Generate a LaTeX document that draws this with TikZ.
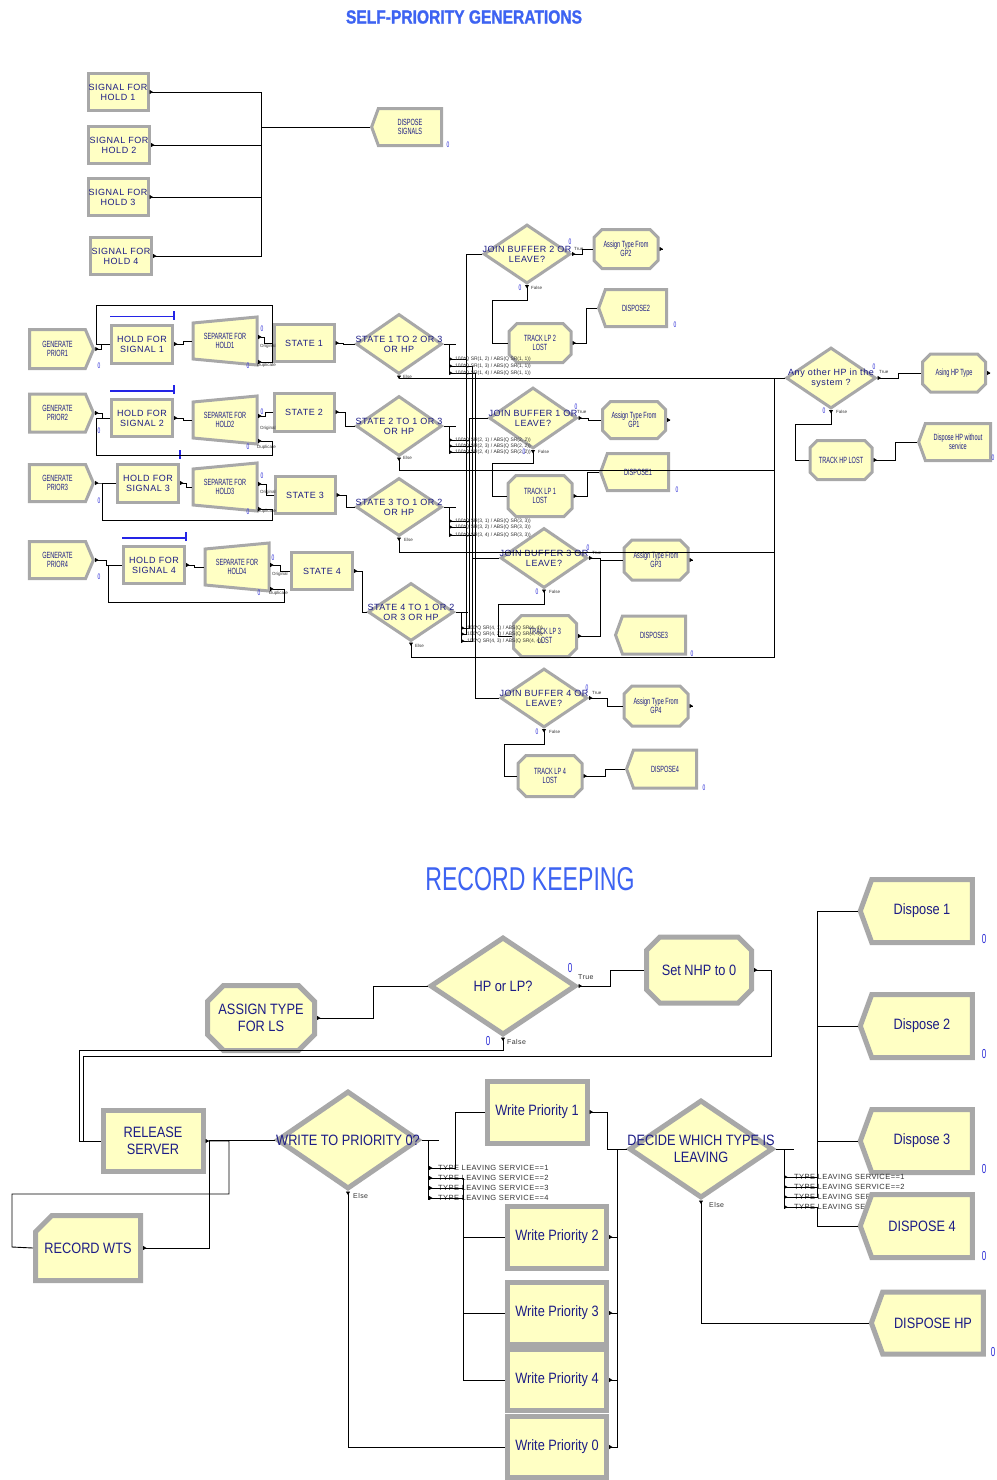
\documentclass[tikz,border=0pt]{standalone}
\usepackage{fontspec}
\setmainfont{Liberation Sans}
\newfontfamily\narrowfont{Liberation Sans}[FakeStretch=0.62]
\newfontfamily\condfont{Liberation Sans}[FakeStretch=0.85]
\newfontfamily\spacedfont{Liberation Sans}[LetterSpace=6]
\newfontfamily\keepfont{Liberation Sans}[FakeStretch=0.7]
\newfontfamily\headfont{Liberation Sans Bold}[FakeStretch=0.82, FakeBold=1.2]
\usetikzlibrary{shapes.geometric, shapes.misc, shapes.symbols, arrows.meta, calc}
\definecolor{modfill}{HTML}{FFFFC4}
\definecolor{modedge}{HTML}{A8A8A8}
\definecolor{modtext}{HTML}{1C1C86}
\definecolor{titleblue}{HTML}{3D63F2}
\definecolor{cntblue}{HTML}{2B2BD6}
\definecolor{qblue}{HTML}{2424E6}

\begin{document}
\begin{tikzpicture}[x=1pt, y=-1pt,
    mod/.style={draw=modedge, fill=modfill, line width=3pt, text=modtext, align=center, inner sep=0pt},
    big/.style={line width=5pt, chamfered rectangle xsep=8pt, chamfered rectangle ysep=8pt},
    boxmod/.style={mod, rectangle},
    assignmod/.style={mod, chamfered rectangle, chamfered rectangle xsep=4pt, chamfered rectangle ysep=4pt},
    decidemod/.style={mod, diamond},
    createmod/.style={mod, signal, signal to=east, signal pointer angle=134},
    disposemod/.style={mod, signal, signal to=west, signal pointer angle=140},
    recordmod/.style={mod, chamfered rectangle, chamfered rectangle corners=north west, chamfered rectangle xsep=11pt, chamfered rectangle ysep=11pt},
    sz/.style 2 args={minimum width=#1, minimum height=#2},
    capfont/.style={font=\spacedfont\fontsize{9}{10}\selectfont},
    thinfont/.style={font=\narrowfont\fontsize{9}{9.5}\selectfont},
    bigfont/.style={font=\condfont\fontsize{15}{16.5}\selectfont},
    dtext/.style={text=modtext, align=center, inner sep=0pt},
    cnt/.style={text=cntblue, font=\narrowfont\fontsize{8}{8}\selectfont, inner sep=0pt},
    bigcnt/.style={cnt, font=\narrowfont\fontsize{13}{13}\selectfont},
    tag/.style={font=\fontsize{4.5}{5}\selectfont, inner sep=0pt, anchor=west, text=black!80},
    bigtag/.style={font=\spacedfont\fontsize{7}{8}\selectfont, inner sep=0pt, anchor=west, text=black!80},
    cond/.style={font=\fontsize{5}{6}\selectfont, inner sep=0pt, anchor=west, text=black!80},
    bigcond/.style={font=\spacedfont\fontsize{7.5}{8}\selectfont, inner sep=0pt, anchor=west, text=black!80},
    flow/.style={line width=0.9pt, {Triangle[length=3.5pt,width=4pt,reversed]}-},
    stub/.style={line width=0.9pt},
    queue/.style={draw=qblue, line width=1.4pt}]

\path[use as bounding box, fill=white] (0,0) rectangle (996,1480);

% titles
\node[text=titleblue, font=\headfont\fontsize{19}{20}\selectfont] (titleGen) at (464,17) {SELF-PRIORITY GENERATIONS};
\node[text=titleblue, font=\keepfont\fontsize{33}{34}\selectfont] (titleRec) at (530,879) {RECORD KEEPING};

% signals for the holds
\node[boxmod, capfont, sz={60}{37}] (sig1) at (118,92) {SIGNAL FOR\\HOLD 1};
\node[boxmod, capfont, sz={61}{37}] (sig2) at (119,145) {SIGNAL FOR\\HOLD 2};
\node[boxmod, capfont, sz={60}{37}] (sig3) at (118,197) {SIGNAL FOR\\HOLD 3};
\node[boxmod, capfont, sz={61}{37}] (sig4) at (121,256) {SIGNAL FOR\\HOLD 4};
\node[disposemod, thinfont, sz={70}{37}] (dispSig) at (410,127) {DISPOSE\\SIGNALS};

% generation rows
\node[createmod, thinfont, sz={64}{39}] (gen1) at (57.5,349) {GENERATE\\PRIOR1};
\node[createmod, thinfont, sz={64}{38}] (gen2) at (57.5,413) {GENERATE\\PRIOR2};
\node[createmod, thinfont, sz={64}{37}] (gen3) at (57.5,483) {GENERATE\\PRIOR3};
\node[createmod, thinfont, sz={64}{37}] (gen4) at (57.5,560) {GENERATE\\PRIOR4};

\node[boxmod, capfont, sz={61}{38}] (hold1) at (142,344) {HOLD FOR\\SIGNAL 1};
\node[boxmod, capfont, sz={61}{37}] (hold2) at (142,418) {HOLD FOR\\SIGNAL 2};
\node[boxmod, capfont, sz={61}{38}] (hold3) at (148,483) {HOLD FOR\\SIGNAL 3};
\node[boxmod, capfont, sz={61}{37}] (hold4) at (154,565) {HOLD FOR\\SIGNAL 4};
\foreach \h in {hold1,hold2,hold3,hold4}
    \draw[queue] ([yshift=7pt]\h.north west) -- ([yshift=7pt]\h.north east)
        ([yshift=4pt]\h.north east) -- ([yshift=13pt]\h.north east);

% separate modules
\foreach \n/\x/\y/\t in {sep1/225/341/{SEPARATE FOR\\HOLD1}, sep2/225/420/{SEPARATE FOR\\HOLD2},
        sep3/225/487/{SEPARATE FOR\\HOLD3}, sep4/237/567/{SEPARATE FOR\\HOLD4}} {
    \draw[draw=modedge, fill=modfill, line width=3pt] (\x-32,\y-18) -- (\x+32,\y-24) -- (\x+32,\y+24) -- (\x-32,\y+18) -- cycle;
    \node[thinfont, text=modtext, align=center, inner sep=0pt, sz={66}{50}] (\n) at (\x,\y) {\t};
}

\node[boxmod, capfont, sz={60}{37}] (st1) at (304,343) {STATE 1};
\node[boxmod, capfont, sz={60}{38}] (st2) at (304,412) {STATE 2};
\node[boxmod, capfont, sz={60}{37}] (st3) at (305,495) {STATE 3};
\node[boxmod, capfont, sz={61}{37}] (st4) at (322,571) {STATE 4};

\node[decidemod, sz={86}{60}, label={[dtext, capfont]center:{STATE 1 TO 2 OR 3\\OR HP}}] (d1) at (399,344) {};
\node[decidemod, sz={86}{60}, label={[dtext, capfont]center:{STATE 2 TO 1 OR 3\\OR HP}}] (d2) at (399,426) {};
\node[decidemod, sz={86}{58}, label={[dtext, capfont]center:{STATE 3 TO 1 OR 2\\OR HP}}] (d3) at (399,507) {};
\node[decidemod, sz={86}{58}, label={[dtext, capfont]center:{STATE 4 TO 1 OR 2\\OR 3 OR HP}}] (d4) at (411,612) {};

% join buffers
\node[decidemod, sz={87}{59}, label={[dtext, capfont]center:{JOIN BUFFER 2 OR\\LEAVE?}}] (jb2) at (527,254) {};
\node[decidemod, sz={88}{61}, label={[dtext, capfont]center:{JOIN BUFFER 1 OR\\LEAVE?}}] (jb1) at (533,418) {};
\node[decidemod, sz={87}{60}, label={[dtext, capfont]center:{JOIN BUFFER 3 OR\\LEAVE?}}] (jb3) at (544,558) {};
\node[decidemod, sz={87}{59}, label={[dtext, capfont]center:{JOIN BUFFER 4 OR\\LEAVE?}}] (jb4) at (544,698) {};

\node[assignmod, thinfont, sz={64}{39}] (agp2) at (626,249) {Assign Type From\\GP2};
\node[assignmod, thinfont, sz={63}{37}] (agp1) at (634,420) {Assign Type From\\GP1};
\node[assignmod, thinfont, sz={64}{40}] (agp3) at (656,560) {Assign Type From\\GP3};
\node[assignmod, thinfont, sz={64}{40}] (agp4) at (656,706) {Assign Type From\\GP4};

\node[assignmod, thinfont, sz={62}{39}] (tlp2) at (540,343) {TRACK LP 2\\LOST};
\node[assignmod, thinfont, sz={64}{41}] (tlp1) at (540,496) {TRACK LP 1\\LOST};
\node[assignmod, thinfont, sz={63}{41}] (tlp3) at (545,636) {TRACK LP 3\\LOST};
\node[assignmod, thinfont, sz={64}{41}] (tlp4) at (550,776) {TRACK LP 4\\LOST};

\node[disposemod, thinfont, sz={68}{37}] (disp2) at (636,308) {DISPOSE2};
\node[disposemod, thinfont, sz={68}{37}] (disp1) at (638,472) {DISPOSE1};
\node[disposemod, thinfont, sz={70}{38}] (disp3) at (654,635) {DISPOSE3};
\node[disposemod, thinfont, sz={70}{38}] (disp4) at (665,769) {DISPOSE4};

% high priority
\node[decidemod, sz={90}{61}, label={[dtext, font=\spacedfont\fontsize{9}{10}\selectfont]center:{Any other HP in the\\system ?}}] (anyhp) at (831,378) {};
\node[assignmod, thinfont, sz={63}{38}] (ahp) at (954,373) {Asing HP Type};
\node[assignmod, thinfont, sz={62}{39}] (thp) at (841,460) {TRACK HP LOST};
\node[disposemod, thinfont, sz={72}{37}] (dhp) at (958,442) {Dispose HP without\\service};

% record keeping, the hidden condition texts first so that DISPOSE 4 covers them
\foreach \y/\t in {1197/3, 1207/4}
    \node[bigcond] (decTxt\t) at (794,\y) {TYPE LEAVING SERVICE==\t};

\node[assignmod, big, bigfont, sz={107}{65}] (ats) at (261,1018) {ASSIGN TYPE\\FOR LS};
\node[decidemod, big, sz={146}{98}, label={[dtext, bigfont]center:HP or LP?}] (hplp) at (503,986) {};
\node[assignmod, big, bigfont, sz={105}{66}] (setnhp) at (699,970) {Set NHP to 0};
\node[boxmod, big, bigfont, sz={100}{61}] (rel) at (153,1141) {RELEASE\\SERVER};
\node[recordmod, line width=5pt, bigfont, sz={105}{65}] (rec) at (88,1248) {RECORD WTS};
\node[decidemod, big, sz={142}{98}, label={[dtext, bigfont]center:WRITE TO PRIORITY 0?}] (wtp0) at (348,1140) {};

\node[boxmod, big, bigfont, sz={100}{62}] (wp1) at (537,1112) {Write Priority 1};
\node[boxmod, big, bigfont, sz={99}{62}] (wp2) at (557,1237) {Write Priority 2};
\node[boxmod, big, bigfont, sz={99}{62}] (wp3) at (557,1313) {Write Priority 3};
\node[boxmod, big, bigfont, sz={99}{61}] (wp4) at (557,1380) {Write Priority 4};
\node[boxmod, big, bigfont, sz={99}{61}] (wp0) at (557,1447) {Write Priority 0};

\node[decidemod, big, sz={144}{98}, label={[dtext, bigfont]center:{DECIDE WHICH TYPE IS\\LEAVING}}] (dec) at (701,1149) {};

\node[disposemod, big, bigfont, sz={112}{63}] (disp1b) at (922,911) {Dispose 1};
\node[disposemod, big, bigfont, sz={112}{63}] (disp2b) at (922,1026) {Dispose 2};
\node[disposemod, big, bigfont, sz={112}{63}] (disp3b) at (922,1141) {Dispose 3};
\node[disposemod, big, bigfont, sz={112}{63}] (disp4b) at (922,1226) {DISPOSE 4};
\node[disposemod, big, bigfont, sz={112}{62}] (dhp2) at (933,1323) {DISPOSE HP};

\foreach \y/\t in {1177/1, 1187/2}
    \node[bigcond] (decTxt\t) at (794,\y) {TYPE LEAVING SERVICE==\t};

% counters
\foreach \x/\y [count=\i] in {448/145, 99/366, 99/431, 99/501, 99/577, 262/329, 248/366, 262/412, 248/447,
        262/476, 248/512, 273/558, 259/593, 570/242, 520/288, 675/325, 576/407, 524/452, 677/490,
        588/548, 537/592, 692/654, 587/688, 537/732, 704/788, 874/367, 824/411, 993/458}
    \node[cnt] (cnt\i) at (\x,\y) {0};
\foreach \x/\y [count=\i] in {570/968, 488/1041, 984/939, 984/1054, 984/1169, 984/1256, 993/1352}
    \node[bigcnt] (bcnt\i) at (\x,\y) {0};

% branch labels
\foreach \x/\y/\t [count=\i] in {260/346/Original, 257/365/Duplicate, 260/428/Original, 257/447/Duplicate,
        260/492/Original, 257/511/Duplicate, 272/574/Original, 269/593/Duplicate,
        574/249/True, 577/412/True, 592/553/True, 592/693/True, 879/372/True,
        531/288/False, 538/452/False, 549/592/False, 549/732/False, 836/412/False,
        403/377/Else, 403/458/Else, 404/540/Else, 415/646/Else}
    \node[tag] (tag\i) at (\x,\y) {\t};
\foreach \x/\y/\t [count=\i] in {578/977/True, 507/1042/False, 353/1196/Else, 709/1205/Else}
    \node[bigtag] (btag\i) at (\x,\y) {\t};

% signals to dispose
\coordinate (sigJoin) at (261,127);
\foreach \s in {sig1,sig2,sig3,sig4}
    \draw[flow] (\s.east) -| (sigJoin);
\draw[stub] (sigJoin) -- (dispSig.west);

% row 1
\draw[flow] (gen1.east) -- ++(6,0) |- (hold1.west);
\draw[flow] (hold1.east) -- ++(9,0) |- (sep1.west);
\draw[flow] ($(sep1.east)+(0,-4)$) -- ++(6,0) |- (st1.west);
\draw[flow] ($(sep1.east)+(0,21)$) -- ++(14,0) |- (96,305) |- (hold1.west);
\draw[flow] (st1.east) -- ++(8,0) |- (d1.west);
% row 2
\draw[flow] (gen2.east) -- ++(7,0) |- (hold2.west);
\draw[flow] (hold2.east) -- ++(9,0) |- (sep2.west);
\draw[flow] ($(sep2.east)+(0,-4)$) -- ++(7,0) |- (st2.west);
\draw[flow] ($(sep2.east)+(0,21)$) -- ++(14,0) |- (96,455) |- (hold2.west);
\draw[flow] (st2.east) -- ++(10,0) |- (d2.west);
% row 3
\draw[flow] (gen3.east) -- ++(5,0) |- (hold3.west);
\draw[flow] (hold3.east) -- ++(6,0) |- (sep3.west);
\draw[flow] ($(sep3.east)+(0,-3)$) -- ++(8,0) |- (st3.west);
\draw[flow] ($(sep3.east)+(0,22)$) -- ++(14,0) |- (102,520) |- (hold3.west);
\draw[flow] (st3.east) -- ++(10,0) |- (d3.west);
% row 4
\draw[flow] (gen4.east) -- ++(11,0) |- (hold4.west);
\draw[flow] (hold4.east) -- ++(8,0) |- (sep4.west);
\draw[flow] ($(sep4.east)+(0,-2)$) -- ++(10,0) |- (st4.west);
\draw[flow] ($(sep4.east)+(0,22)$) -- ++(14,0) |- (108,602) |- (hold4.west);
\draw[flow] (st4.east) -- ++(8,0) |- (d4.west);

% state decisions: conditions to the join buffers
\draw[stub] (d1.east) -- ++(12,0) (449,344) -- (449,374);
\draw[stub] (d2.east) -- ++(12,0) (449,426) -- (449,453);
\draw[stub] (d3.east) -- ++(12,0) (449,507) -- (449,536);
\draw[stub] (d4.east) -- ++(12,0) (461,612) -- (461,642);
\foreach \n/\x/\y in {d1a/449/359, d1b/449/366, d1c/449/373, d2a/449/440, d2b/449/446, d2c/449/452,
        d3a/449/521, d3b/449/527, d3c/449/535, d4a/461/628, d4b/461/634, d4c/461/641}
    \coordinate (\n) at (\x,\y);
\draw[flow] (d1a) -| ([xshift=-16pt]jb2.west) -- (jb2.west);
\draw[flow] (d1b) -| ([xshift=-26.5pt]jb3.west) -- (jb3.west);
\draw[flow] (d1c) -| ([xshift=-23.5pt]jb4.west) -- (jb4.west);
\draw[flow] (d2a) -| ([xshift=-18pt]jb1.west) -- (jb1.west);
\draw[flow] (d2b) -| ([xshift=-26.5pt]jb3.west) -- (jb3.west);
\draw[flow] (d2c) -| ([xshift=-23.5pt]jb4.west) -- (jb4.west);
\draw[flow] (d3a) -| ([xshift=-18pt]jb1.west) -- (jb1.west);
\draw[flow] (d3b) -| ([xshift=-16pt]jb2.west) -- (jb2.west);
\draw[flow] (d3c) -| ([xshift=-23.5pt]jb4.west) -- (jb4.west);
\draw[flow] (d4a) -| ([xshift=-18pt]jb1.west) -- (jb1.west);
\draw[flow] (d4b) -| ([xshift=-16pt]jb2.west) -- (jb2.west);
\draw[flow] (d4c) -| ([xshift=-26.5pt]jb3.west) -- (jb3.west);
\foreach \c/\t in {d1a/{1, 2}, d1b/{1, 3}, d1c/{1, 4}}
    \node[cond] (txt\c) at ([xshift=6pt]\c) {100*Q SR(\t) / ABS(Q SR(1, 1))};
\foreach \c/\t in {d2a/{2, 1}, d2b/{2, 3}, d2c/{2, 4}}
    \node[cond] (txt\c) at ([xshift=6pt]\c) {100*Q SR(\t) / ABS(Q SR(2, 2))};
\foreach \c/\t in {d3a/{3, 1}, d3b/{3, 2}, d3c/{3, 4}}
    \node[cond] (txt\c) at ([xshift=6pt]\c) {100*Q SR(\t) / ABS(Q SR(3, 3))};
\foreach \c/\t in {d4a/{4, 1}, d4b/{4, 2}, d4c/{4, 3}}
    \node[cond] (txt\c) at ([xshift=6pt]\c) {100*Q SR(\t) / ABS(Q SR(4, 4))};

% else: to the high priority check
\draw[flow] (d1.south) |- (anyhp.west);
\draw[flow] (d2.south) |- (774,470) |- (anyhp.west);
\draw[flow] (d3.south) |- (774,552) |- (anyhp.west);
\draw[flow] (d4.south) |- (774,657) |- (anyhp.west);

% join buffers
\draw[flow] (jb2.east) -- ++(10,0) |- (agp2.west);
\draw[flow] (jb2.south) |- (492,300) |- (tlp2.west);
\draw[flow] (tlp2.east) -- ++(14,0) |- (disp2.west);
\draw[flow] (jb1.east) -- ++(10,0) |- (agp1.west);
\draw[flow] (jb1.south) |- (492,463) |- (tlp1.west);
\draw[flow] (tlp1.east) -- ++(14,0) |- (disp1.west);
\draw[flow] (jb3.east) -- ++(11,0) |- (agp3.west);
\draw[flow] (jb3.south) |- (498,604) |- (tlp3.west);
\draw[flow] (tlp3.east) -| ([xshift=11pt]jb3.east);
\draw[flow] (jb4.east) -- ++(18,0) |- (agp4.west);
\draw[flow] (jb4.south) |- (504,744) |- (tlp4.west);
\draw[flow] (tlp4.east) -- ++(22,0) |- (disp4.west);
\foreach \a in {agp1,agp2,agp3,agp4,ahp}
    \draw[flow] (\a.east) -- ++(3,0);

% any other HP
\draw[flow] (anyhp.east) -- ++(21,0) |- (ahp.west);
\draw[flow] (anyhp.south) |- (795,424) |- (thp.west);
\draw[flow] (thp.east) -- ++(22,0) |- (dhp.west);

% record keeping
\draw[flow] (ats.east) -- ++(56,0) |- (hplp.west);
\draw[flow] (hplp.east) -- ++(32,0) |- (setnhp.west);
\draw[flow] (hplp.south) |- (79,1050) |- (rel.west);
\draw[flow] (setnhp.east) -| (771,1056) -- (83,1056) |- (rel.west);
\draw[flow] (rel.east) -| (229,1194) -| (12,1247) -- (rec.west);
\draw[flow] (rec.east) -| (209,1140) -- (wtp0.west);

\draw[stub] (wtp0.east) -- ++(17,0) ($(wtp0.east)+(7,0)$) -- ++(0,60);
\foreach \n/\y in {w1/1168, w2/1178, w3/1188, w4/1198}
    \coordinate (\n) at (429,\y);
\foreach \n [count=\i] in {w1,w2,w3,w4}
    \node[bigcond] (wTxt\i) at ([xshift=9pt]\n) {TYPE LEAVING SERVICE==\i};
\draw[flow] (w1) -| ([xshift=-29.5pt]wp1.west) -- (wp1.west);
\draw[flow] (w2) -| ([xshift=-41.5pt]wp2.west) -- (wp2.west);
\draw[flow] (w3) -| ([xshift=-41.5pt]wp3.west) -- (wp3.west);
\draw[flow] (w4) -| ([xshift=-41.5pt]wp4.west) -- (wp4.west);
\draw[flow] (wtp0.south) |- (wp0.west);

\draw[flow] (wp1.east) -| ([xshift=-19pt]dec.west) -- (dec.west);
\foreach \w in {wp2,wp3,wp4,wp0}
    \draw[flow] (\w.east) -| ([xshift=-9pt]dec.west) -- (dec.west);

\draw[stub] (dec.east) -- ++(18,0) ($(dec.east)+(9,0)$) -- ++(0,60);
\foreach \n/\y in {e1/1177, e2/1187, e3/1197, e4/1207}
    \coordinate (\n) at (784,\y);
\draw[flow] (e1) -| ([xshift=-40pt]disp1b.west) -- (disp1b.west);
\draw[flow] (e2) -| ([xshift=-40pt]disp2b.west) -- (disp2b.west);
\draw[flow] (e3) -| ([xshift=-40pt]disp3b.west) -- (disp3b.west);
\draw[flow] (e4) -| ([xshift=-40pt]disp4b.west) -- (disp4b.west);
\draw[flow] (dec.south) |- (dhp2.west);
\end{tikzpicture}
\end{document}
